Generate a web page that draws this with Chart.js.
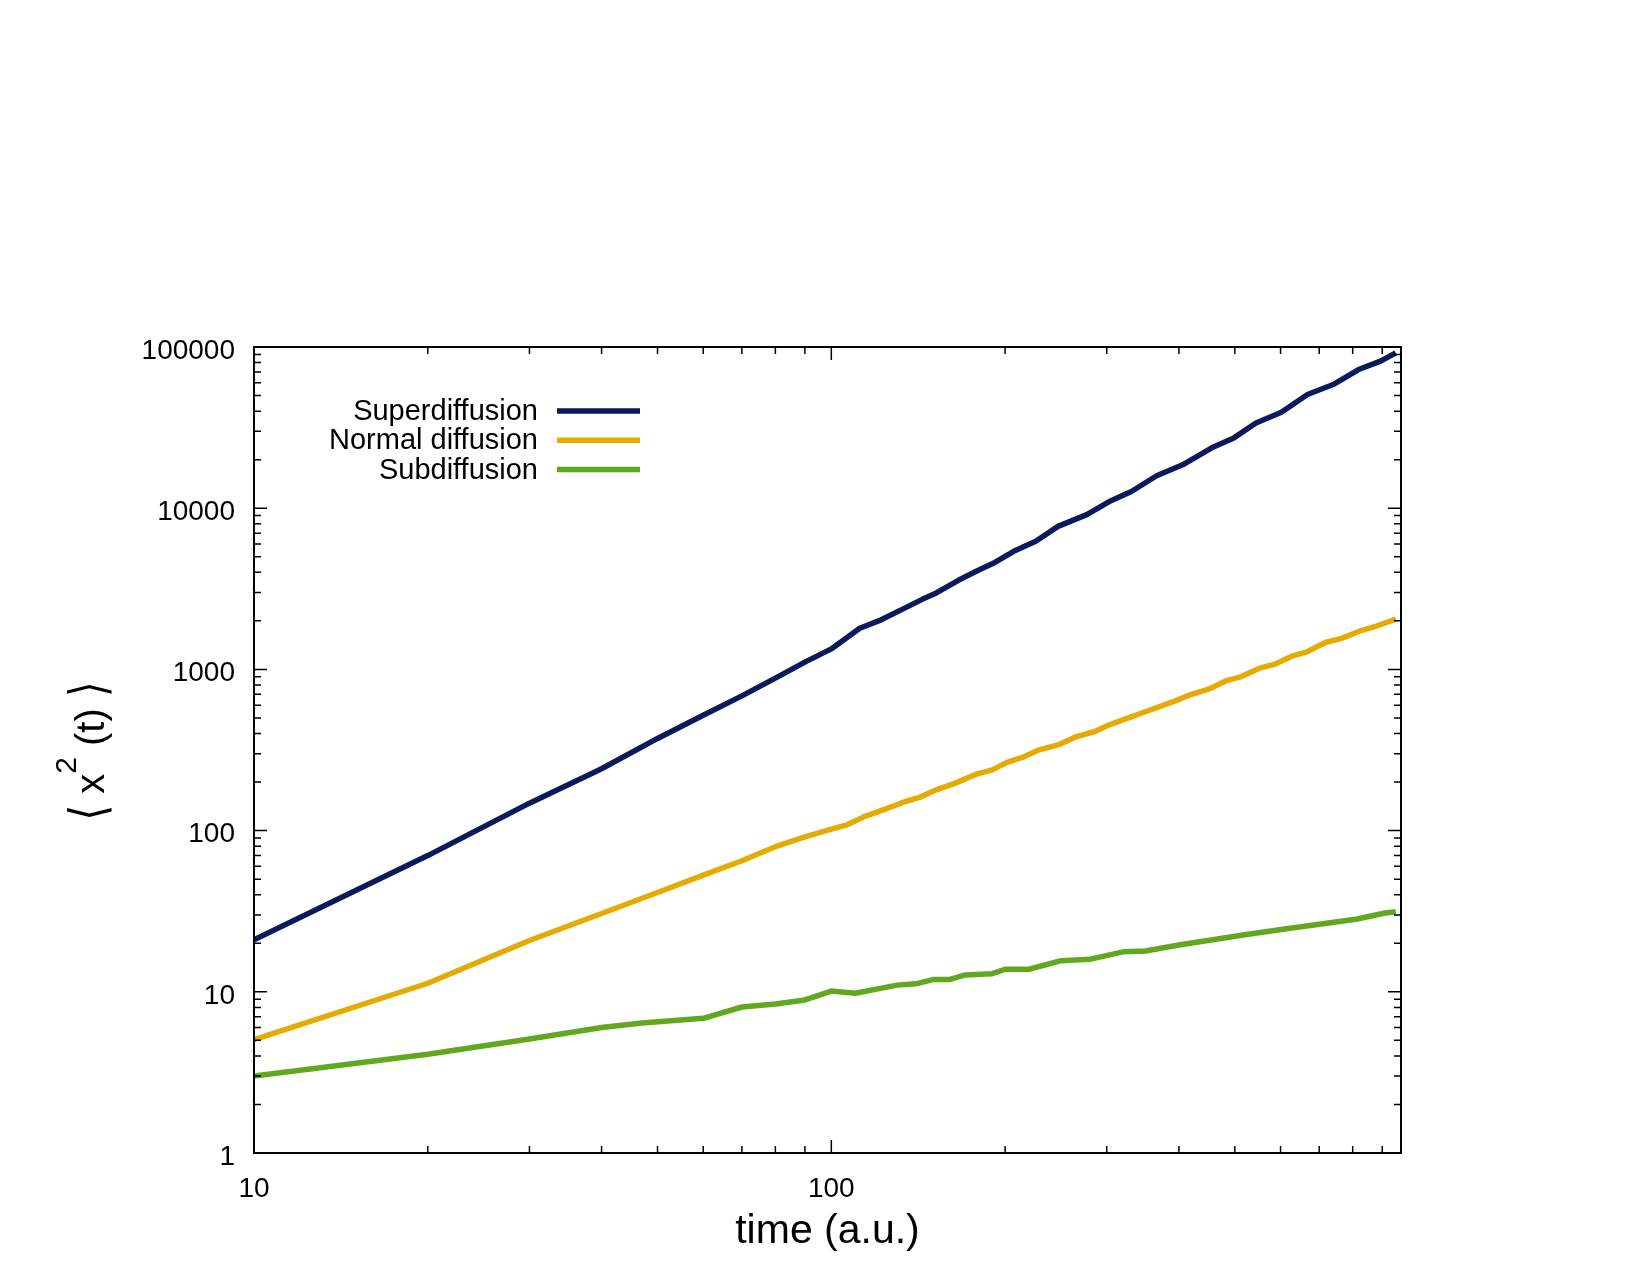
<!DOCTYPE html>
<html>
<head>
<meta charset="utf-8">
<title>Mean squared displacement</title>
<script src="https://cdn.jsdelivr.net/npm/chart.js@4.4.1/dist/chart.umd.min.js"></script>
<style>
  html, body { margin: 0; padding: 0; background: #ffffff; }
  #msdChart { display: block; }
</style>
</head>
<body>
<canvas id="msdChart" width="1650" height="1275"></canvas>
<script>
// Data (time in a.u., <x^2(t)>)
const superTime = [10, 20, 30, 40, 50, 60, 70, 80, 90, 100, 112, 122, 134, 144, 152, 166, 179, 192, 207, 226, 247, 277, 303, 331, 366, 406, 456, 498, 544, 602, 668, 740, 819, 894, 950];
const superMsd = [21, 70, 148, 242, 373, 520, 685, 883, 1110, 1340, 1800, 2030, 2400, 2730, 2980, 3570, 4090, 4610, 5400, 6230, 7710, 9120, 11000, 12700, 15900, 18600, 23700, 27300, 33800, 39400, 50700, 58500, 72500, 81700, 92000];

const normalTime = [10, 20, 30, 40, 50, 60, 70, 80, 90, 100, 106, 114, 124, 134, 143, 152, 164, 179, 190, 201, 216, 229, 247, 266, 286, 303, 326, 351, 389, 418, 450, 484, 513, 552, 589, 630, 668, 718, 767, 819, 882, 950];
const normalMsd = [5.05, 11.3, 20.8, 30.6, 41.3, 52.9, 65, 79.5, 91.4, 102, 108, 122, 136, 151, 162, 179, 197, 225, 238, 264, 288, 317, 340, 383, 412, 453, 498, 548, 626, 695, 754, 853, 903, 1018, 1083, 1214, 1291, 1469, 1564, 1719, 1865, 2052];

const subTime = [10, 20, 30, 40, 47, 60, 70, 80, 90, 100, 110, 130, 140, 150, 160, 170, 190, 200, 220, 250, 280, 320, 350, 400, 520, 610, 810, 910, 950];
const subMsd = [3.0, 4.1, 5.1, 6.0, 6.4, 6.85, 8.05, 8.4, 8.9, 10.1, 9.8, 11.0, 11.2, 11.9, 11.9, 12.7, 12.95, 13.8, 13.8, 15.6, 15.9, 17.7, 17.9, 19.5, 22.6, 24.5, 28.2, 30.8, 31.4];

const seriesLabels = ['Superdiffusion', 'Normal diffusion', 'Subdiffusion'];
const seriesColors = ['#0a1a5c', '#e6ab02', '#62a81e'];

// Axes
const xMin = 10, xMax = 970;
const yMin = 1, yMax = 100000;
const xMajorTicks = [10, 100];
const yMajorTicks = [1, 10, 100, 1000, 10000, 100000];
const xTitle = 'time (a.u.)';

const FONT = '"Liberation Sans", Arial, Helvetica, sans-serif';

// log minor ticks 1..9 x each decade, limited to the axis range
function decadeTicks(majors, max) {
    const out = [];
    majors.forEach(m => {
        for (let k = 1; k <= 9; k++) {
            if (k * m <= max * 1.0001) out.push(k * m);
        }
    });
    return out;
}
const xTickValues = decadeTicks(xMajorTicks, xMax);
const yTickValues = decadeTicks(yMajorTicks, yMax);

function toPoints(xs, ys) {
    return xs.map((x, i) => ({ x: x, y: ys[i] }));
}

// gnuplot style: inward ticks on all four sides plus a closed frame
const frameTicks = {
    id: 'frameTicks',
    afterDatasetsDraw(chart) {
        const { ctx, chartArea: a, scales } = chart;
        ctx.save();
        ctx.strokeStyle = '#000';
        ctx.lineWidth = 1.5;
        ctx.beginPath();
        xTickValues.forEach(v => {
            const px = scales.x.getPixelForValue(v);
            const len = xMajorTicks.includes(v) ? 13 : 7;
            ctx.moveTo(px, a.bottom); ctx.lineTo(px, a.bottom - len);
            ctx.moveTo(px, a.top); ctx.lineTo(px, a.top + len);
        });
        yTickValues.forEach(v => {
            const py = scales.y.getPixelForValue(v);
            const len = yMajorTicks.includes(v) ? 13 : 7;
            ctx.moveTo(a.left, py); ctx.lineTo(a.left + len, py);
            ctx.moveTo(a.right, py); ctx.lineTo(a.right - len, py);
        });
        ctx.stroke();
        ctx.lineWidth = 2;
        ctx.strokeRect(a.left, a.top, a.right - a.left, a.bottom - a.top);
        ctx.restore();
    }
};

// key in the top-left corner: right aligned text then a line sample
const keyBox = {
    id: 'keyBox',
    afterDraw(chart) {
        const ctx = chart.ctx;
        ctx.save();
        ctx.font = '29px ' + FONT;
        ctx.textAlign = 'right';
        ctx.textBaseline = 'middle';
        chart.data.datasets.forEach((ds, i) => {
            const y = 411 + i * 29.3;
            ctx.fillStyle = '#000';
            ctx.fillText(ds.label, 538, y + 1);
            ctx.strokeStyle = ds.borderColor;
            ctx.lineWidth = 5.5;
            ctx.beginPath();
            ctx.moveTo(557, y);
            ctx.lineTo(640, y);
            ctx.stroke();
        });
        ctx.restore();
    }
};

// rotated y title with a raised 2 and thin angle brackets
const yTitle = {
    id: 'yTitle',
    afterDraw(chart) {
        const ctx = chart.ctx;
        const big = '40px ' + FONT;
        const bracket = '40px "DejaVu Sans", sans-serif';
        // [text, font, baseline shift, vertical stretch]
        const parts = [
            ['\u27E8', bracket, 1, 1.25],
            [' x', big, 0, 1],
            ['2', '30px ' + FONT, -28, 1],
            [' (t) ', big, 0, 1],
            ['\u27E9', bracket, 1, 1.25]
        ];
        ctx.save();
        ctx.translate(104, 751);
        ctx.rotate(-Math.PI / 2);
        ctx.fillStyle = '#000';
        ctx.textAlign = 'left';
        ctx.textBaseline = 'alphabetic';
        let total = 0;
        parts.forEach(p => { ctx.font = p[1]; total += ctx.measureText(p[0]).width; });
        let x = -total / 2;
        parts.forEach(p => {
            ctx.font = p[1];
            ctx.save();
            ctx.translate(x, p[2]);
            ctx.scale(1, p[3]);
            ctx.fillText(p[0], 0, 0);
            ctx.restore();
            x += ctx.measureText(p[0]).width;
        });
        ctx.restore();
    }
};

const datasets = [
    { label: seriesLabels[0], data: toPoints(superTime, superMsd), borderColor: seriesColors[0] },
    { label: seriesLabels[1], data: toPoints(normalTime, normalMsd), borderColor: seriesColors[1] },
    { label: seriesLabels[2], data: toPoints(subTime, subMsd), borderColor: seriesColors[2] }
].map(d => Object.assign(d, {
    backgroundColor: d.borderColor,
    borderWidth: 5.5,
    pointRadius: 0,
    tension: 0,
    fill: false,
    borderJoinStyle: 'round'
}));

const chartConfig = {
    type: 'line',
    data: { datasets: datasets },
    options: {
        responsive: false,
        animation: false,
        devicePixelRatio: 1,
        layout: { padding: { left: 0, top: 347, right: 249, bottom: 0 } },
        plugins: {
            legend: { display: false },
            tooltip: { enabled: false }
        },
        scales: {
            x: {
                type: 'logarithmic',
                position: 'bottom',
                min: xMin,
                max: xMax,
                afterBuildTicks: s => { s.ticks = xTickValues.map(v => ({ value: v })); },
                afterFit: s => { s.height = 122; },
                grid: { display: false, drawTicks: false },
                border: { display: false },
                ticks: {
                    autoSkip: false,
                    maxRotation: 0,
                    padding: 19,
                    color: '#000',
                    font: { family: FONT, size: 28 },
                    callback: v => xMajorTicks.includes(v) ? String(v) : ''
                },
                title: {
                    display: true,
                    text: xTitle,
                    color: '#000',
                    font: { family: FONT, size: 41, lineHeight: 1.2 },
                    padding: { top: 0, bottom: 19 }
                }
            },
            y: {
                type: 'logarithmic',
                position: 'left',
                min: yMin,
                max: yMax,
                afterBuildTicks: s => { s.ticks = yTickValues.map(v => ({ value: v })); },
                afterFit: s => { s.width = 254; },
                grid: { display: false, drawTicks: false },
                border: { display: false },
                ticks: {
                    autoSkip: false,
                    padding: 19,
                    labelOffset: 4,
                    color: '#000',
                    font: { family: FONT, size: 28 },
                    callback: v => yMajorTicks.includes(v) ? String(v) : ''
                }
            }
        }
    },
    plugins: [frameTicks, keyBox, yTitle]
};

// Render the chart
const ctx = document.getElementById('msdChart').getContext('2d');
new Chart(ctx, chartConfig);
</script>
</body>
</html>
